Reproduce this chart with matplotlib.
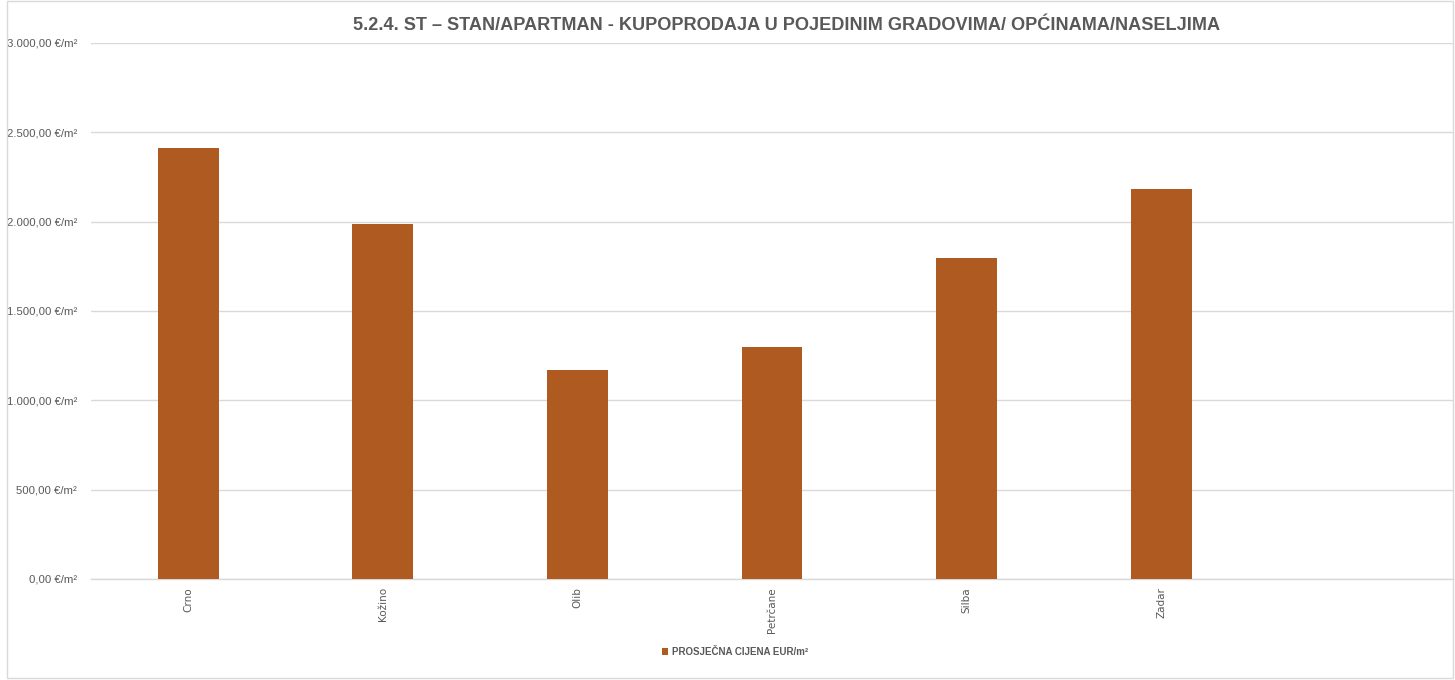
import matplotlib
matplotlib.use("Agg")
import matplotlib.pyplot as plt
from matplotlib.patches import Rectangle
from matplotlib.ticker import FuncFormatter

# data
places = ['Crno', 'Kožino', 'Olib', 'Petrčane', 'Silba', 'Zadar', '']
prices = [2412, 1987, 1170, 1298, 1797, 2183, 0]
y_ticks = [0, 500, 1000, 1500, 2000, 2500, 3000]

title = '5.2.4. ST – STAN/APARTMAN - KUPOPRODAJA U POJEDINIM GRADOVIMA/ OPĆINAMA/NASELJIMA'
series_name = 'PROSJEČNA CIJENA EUR/m²'

bar_col = '#AE5A21'
grey_txt = '#595959'
grid_col = '#D9D9D9'

W, H = 1455, 680
fig = plt.figure(figsize=(W / 100, H / 100), dpi=100)
ax = fig.add_axes([91 / W, 1 - 579 / H, (1453 - 91) / W, (579 - 43) / H])

x = list(range(len(places)))
bars = ax.bar(x[:-1], prices[:-1], width=0.313, color=bar_col, label=series_name, zorder=3)

ax.set_xlim(-0.5, len(places) - 0.5)
ax.set_ylim(0, 3000)
ax.set_yticks(y_ticks)

def eur(v, pos):
    s = f'{v:,.2f}'.replace(',', 'X').replace('.', ',').replace('X', '.')
    return s + ' €/m²'

ax.yaxis.set_major_formatter(FuncFormatter(eur))
ax.set_xticks(x[:-1])
ax.set_xticklabels(places[:-1], rotation=90, fontsize=7.5, color=grey_txt,
                   fontfamily='DejaVu Sans')
ax.tick_params(axis='y', labelsize=8.2, colors=grey_txt, length=0, pad=10)
ax.tick_params(axis='x', length=0, pad=6)
for lbl in ax.get_yticklabels():
    lbl.set_fontfamily('Liberation Sans')
    lbl.set_color(grey_txt)

ax.grid(axis='y', color=grid_col, linewidth=1, zorder=0)
for side in ['top', 'right', 'left']:
    ax.spines[side].set_visible(False)
ax.spines['bottom'].set_color(grid_col)
ax.spines['bottom'].set_linewidth(1)

fig.text(787 / W, 1 - 25 / H, title, ha='center', va='center', fontsize=13.1,
         fontweight='bold', color=grey_txt, fontfamily='Liberation Sans')

leg = fig.legend(handles=[bars], labels=[series_name], loc='center',
                 bbox_to_anchor=(735 / W, 1 - 652 / H), frameon=False,
                 handlelength=0.6, handleheight=0.6, handletextpad=0.4,
                 prop={'family': 'Liberation Sans', 'weight': 'bold', 'size': 7})
for t in leg.get_texts():
    t.set_color(grey_txt)

# outer chart border
fig.patches.append(Rectangle((7 / W, 2 / H), (1453 - 7) / W, (679 - 2) / H,
                             transform=fig.transFigure, fill=False,
                             edgecolor=grid_col, linewidth=1))

fig.savefig('out.png', dpi=100)
